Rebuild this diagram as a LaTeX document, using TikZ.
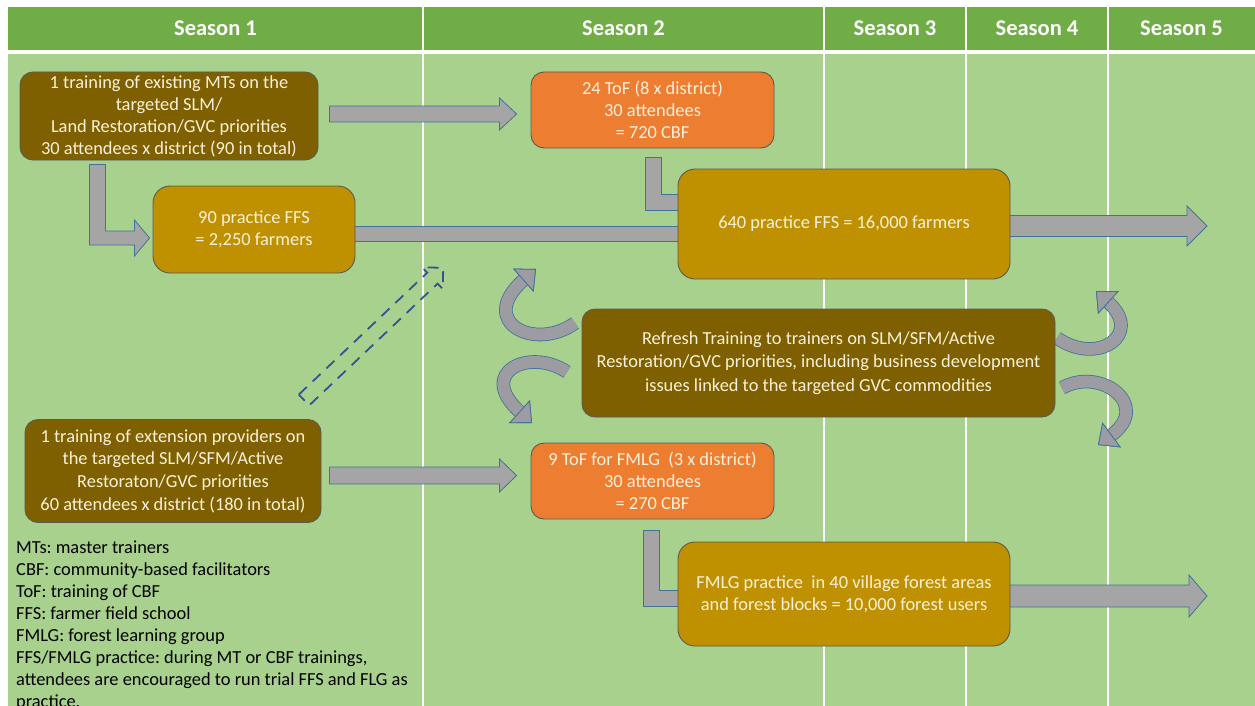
\documentclass[tikz,border=0pt]{standalone}
\usepackage{fontspec}
\setmainfont{Carlito}
\usetikzlibrary{calc,arrows.meta}
\frenchspacing

\definecolor{hdrgreen}{HTML}{70AD47}
\definecolor{bodygreen}{HTML}{A9D18E}
\definecolor{brownbox}{HTML}{7F6000}
\definecolor{goldbox}{HTML}{BF9000}
\definecolor{orangebox}{HTML}{ED7D31}
\definecolor{arrowgray}{HTML}{A5A5A5}
\definecolor{curvegray}{HTML}{9C9CA2}
\definecolor{arrowedge}{HTML}{41719C}
\definecolor{dashblue}{HTML}{2F5597}
\definecolor{boxtext}{HTML}{FBF1DA}
\definecolor{boxedge}{HTML}{5A5A50}

\pgfdeclarelayer{back}
\pgfdeclarelayer{arrows}
\pgfsetlayers{back,arrows,main}

% straight block arrow: #1 start (sets the axis), #2 tip, #3 half body, #4 half head, #5 head length
\newcommand\hblock[5]{%
  \draw[blockarrow] let \p1=(#1), \p2=(#2) in
    (\x1,{\y1+#3pt}) -- ({\x2-#5pt},{\y1+#3pt}) -- ({\x2-#5pt},{\y1+#4pt})
    -- (\x2,\y1) -- ({\x2-#5pt},{\y1-#4pt}) -- ({\x2-#5pt},{\y1-#3pt})
    -- (\x1,{\y1-#3pt}) -- cycle;}

% elbow block arrow, down then right: #1 top-left corner of the vertical band, #2 end point
\newcommand\elbowhead[2]{%
  \draw[blockarrow] let \p1=(#1), \p2=(#2) in
    (\x1,\y1) -- ({\x1+16pt},\y1) -- ({\x1+16pt},{\y2+7pt}) -- ({\x2-15pt},{\y2+7pt})
    -- ({\x2-15pt},{\y2+18pt}) -- (\x2,\y2) -- ({\x2-15pt},{\y2-18pt})
    -- ({\x2-15pt},{\y2-7pt}) -- (\x1,{\y2-7pt}) -- cycle;}
\newcommand\elbowplain[2]{%
  \draw[blockarrow] let \p1=(#1), \p2=(#2) in
    (\x1,\y1) -- ({\x1+16pt},\y1) -- ({\x1+16pt},{\y2+8pt}) -- (\x2,{\y2+8pt})
    -- (\x2,{\y2-8pt}) -- (\x1,{\y2-8pt}) -- cycle;}

% curved block arrow along a given path: edge band, grey band, then the head
\newcommand\curvedarrow[1]{%
  \draw[arrowedge, line width=13.6pt, curvetip] #1;
  \draw[curvegray, line width=12pt, curvetip] #1;}

\tikzset{
  box/.style={rounded corners=13pt, draw=boxedge, line width=0.9pt, text=boxtext,
    align=center, inner sep=0pt, font=\fontsize{18.4}{22}\selectfont},
  brown/.style={box, fill=brownbox},
  gold/.style={box, fill=goldbox, rounded corners=17pt},
  orange/.style={box, fill=orangebox},
  hdr/.style={text=white, font=\bfseries\fontsize{22.5}{26}\selectfont},
  blockarrow/.style={fill=arrowgray, draw=arrowedge, line width=0.8pt, line join=miter},
  curvetip/.style={-{Triangle[length=17pt, width=31pt, line width=0.8pt,
      fill=curvegray, color=arrowedge]}},
}

\begin{document}
\begin{tikzpicture}[x=1pt, y=-1pt]
\useasboundingbox (0,0) rectangle (1255,706);

\begin{pgfonlayer}{back}
  \fill[white] (0,0) rectangle (1255,706);
  \fill[hdrgreen] (8,7) rectangle (1255,50);
  \fill[bodygreen] (8,54) rectangle (1255,706);
  \foreach \xx in {423,824,966,1108}
    \draw[white, line width=1.3pt] (\xx,7) -- (\xx,50) (\xx,54) -- (\xx,706);
\end{pgfonlayer}

% season headers
\node[hdr] (s1) at (215.5,28.5) {Season 1};
\node[hdr] (s2) at (623.5,28.5) {Season 2};
\node[hdr] (s3) at (895,28.5) {Season 3};
\node[hdr] (s4) at (1037,28.5) {Season 4};
\node[hdr] (s5) at (1181.5,28.5) {Season 5};

% boxes
\node[brown, minimum width=298pt, minimum height=88pt] (mt) at (169,116)
  {1 training of existing MTs on the\\targeted SLM/\\Land Restoration/GVC priorities\\30 attendees x district (90 in total)};
\node[gold, minimum width=202pt, minimum height=87pt] (ffs90) at (254,229.5)
  {90 practice FFS\\= 2,250 farmers};
\node[orange, minimum width=243pt, minimum height=76pt] (tof24) at (652.5,110)
  {24 ToF (8 x district)\\30 attendees\\= 720 CBF};
\node[gold, minimum width=332pt, minimum height=110pt] (ffs640) at (844,224)
  {640 practice FFS = 16,000 farmers};
\node[brown, minimum width=473pt, minimum height=108pt, font=\fontsize{18.4}{23.5}\selectfont] (refresh) at (818.5,363)
  {Refresh Training to trainers on SLM/SFM/Active\\Restoration/GVC priorities, including business development\\issues linked to the targeted GVC commodities};
\node[brown, minimum width=296pt, minimum height=103pt, font=\fontsize{18.4}{22.7}\selectfont] (ext) at (173,471)
  {1 training of extension providers on\\the targeted SLM/SFM/Active\\Restoraton/GVC priorities\\60 attendees x district (180 in total)};
\node[orange, minimum width=243pt, minimum height=76pt] (tof9) at (652.5,481)
  {9 ToF for FMLG\ \ (3 x district)\\30 attendees\\= 270 CBF};
\node[gold, minimum width=332pt, minimum height=104pt] (fmlg) at (844,594)
  {FMLG practice\ \ in 40 village forest areas\\and forest blocks = 10,000 forest users};

% abbreviations
\node[anchor=north west, align=left, inner sep=0pt, font=\fontsize{18.4}{22}\selectfont] (legend) at (16,541)
  {MTs: master trainers\\
   CBF: community-based facilitators\\
   ToF: training of CBF\\
   FFS: farmer field school\\
   FMLG: forest learning group\\
   FFS/FMLG practice: during MT or CBF trainings,\\
   attendees are encouraged to run trial FFS and FLG as\\
   practice.};

% free ends of the outgoing arrows
\coordinate (out1) at (1207,226);
\coordinate (out2) at (1207,596);

\begin{pgfonlayer}{arrows}
  % straight arrows
  \hblock{$(mt.east)+(11,-2)$}{$(tof24.west)+(-14,0)$}{8}{16}{17}
  \hblock{$(ext.east)+(8,4.5)$}{$(tof9.west)+(-14,0)$}{8.5}{16.5}{17}
  \hblock{$(ffs640.east)+(-3,2)$}{out1}{10.5}{20}{20}
  \hblock{$(fmlg.east)+(-3,2)$}{out2}{11}{21}{18}
  % band from the 90 FFS box into the 640 FFS box
  \draw[blockarrow] ($(ffs90.east)+(-2,-3.5)$) rectangle ($(ffs640.west)+(4,17)$);
  % elbow arrows
  \elbowhead{$(mt.south west)+(70,4)$}{$(ffs90.west)+(-3,8.5)$}
  \elbowplain{$(tof24.south)+(-7.5,9)$}{$(ffs640.west)+(4,-22)$}
  \elbowplain{$(tof9.south)+(-9.5,11)$}{$(fmlg.west)+(4,4)$}

  % curved arrows around the refresh training
  \curvedarrow{(575,323) .. controls (535,352) and (476,322) .. (536,269)}
  \curvedarrow{(567,372) .. controls (530,347) and (476,372) .. (532,423)}
  \curvedarrow{(1057,338) .. controls (1097,366) and (1144,335) .. (1096,291)}
  \curvedarrow{(1062,388) .. controls (1100,366) and (1152,405) .. (1098,445)}
\end{pgfonlayer}

% dashed outline arrow
\begin{scope}[shift={(304,400)}, rotate=43.5]
  \draw[dashblue, line width=1.8pt, dash pattern=on 11pt off 8pt, line join=miter]
    (0,-7.5) -- (177,-7.5) -- (177,-15) -- (192,0) -- (177,15) -- (177,7.5) -- (0,7.5) -- cycle;
\end{scope}
\end{tikzpicture}
\end{document}
